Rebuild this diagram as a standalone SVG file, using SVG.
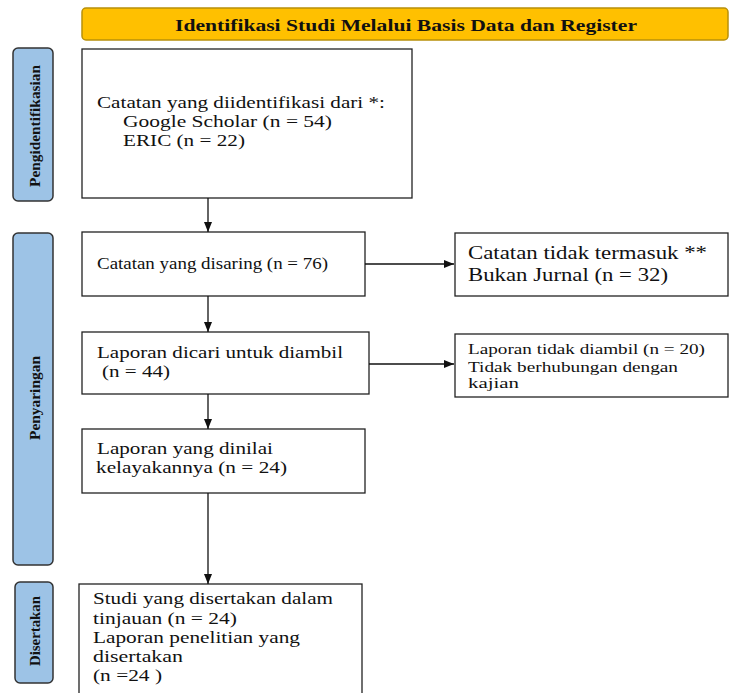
<svg xmlns="http://www.w3.org/2000/svg" width="729" height="693" viewBox="0 0 729 693">
<style>
.box{fill:#fff;stroke:#222;stroke-width:1.3}
.side{fill:#9dc3e6;stroke:#333;stroke-width:1.5}
.t{font-family:"Liberation Serif","Times New Roman",serif;fill:#111}
.lab{font-family:"Liberation Serif","Times New Roman",serif;font-weight:bold;font-size:15px;fill:#111;text-anchor:middle}
.c{stroke:#111;stroke-width:1.3;fill:none}
</style>
<defs>
<marker id="ah" markerWidth="10" markerHeight="8" refX="10" refY="4" orient="auto" markerUnits="userSpaceOnUse">
<path d="M0,0 L10,4 L0,8 Z" fill="#111"/>
</marker>
</defs>
<rect width="729" height="693" fill="#fff"/>
<g id="header">
<rect x="82" y="8" width="646" height="32" rx="4" fill="#ffc000" stroke="#b8900a" stroke-width="1.5"/>
<text class="t" x="175" y="31" font-size="17.5" font-weight="bold" textLength="462" lengthAdjust="spacingAndGlyphs">Identifikasi Studi Melalui Basis Data dan Register</text>
</g>
<g id="side-identification">
<rect class="side" x="13" y="48" width="40" height="153" rx="5"/>
<text class="lab" transform="translate(39.5,126) rotate(-90)" textLength="122" lengthAdjust="spacingAndGlyphs">Pengidentifikasian</text>
</g>
<g id="side-screening">
<rect class="side" x="13" y="233" width="40" height="332" rx="5"/>
<text class="lab" transform="translate(39.5,398) rotate(-90)" textLength="84" lengthAdjust="spacingAndGlyphs">Penyaringan</text>
</g>
<g id="side-included">
<rect class="side" x="15" y="582" width="38" height="101" rx="5"/>
<text class="lab" transform="translate(39.5,631) rotate(-90)" textLength="70" lengthAdjust="spacingAndGlyphs">Disertakan</text>
</g>
<g id="n1">
<rect class="box" x="82" y="49" width="330" height="149"/>
<text class="t" font-size="17.5" x="97" y="108" textLength="288" lengthAdjust="spacingAndGlyphs">Catatan yang diidentifikasi dari *:</text>
<text class="t" font-size="17.5" x="123" y="127" textLength="209" lengthAdjust="spacingAndGlyphs">Google Scholar (n = 54)</text>
<text class="t" font-size="17.5" x="123" y="146" textLength="122" lengthAdjust="spacingAndGlyphs">ERIC (n = 22)</text>
</g>
<g id="n2">
<rect class="box" x="82" y="232" width="283" height="64"/>
<text class="t" font-size="16" x="97" y="269" textLength="231" lengthAdjust="spacingAndGlyphs">Catatan yang disaring (n = 76)</text>
</g>
<g id="n3">
<rect class="box" x="455" y="233" width="273" height="63"/>
<text class="t" font-size="18" x="468" y="259" textLength="239" lengthAdjust="spacingAndGlyphs">Catatan tidak termasuk  **</text>
<text class="t" font-size="18" x="468" y="281" textLength="200" lengthAdjust="spacingAndGlyphs">Bukan Jurnal  (n = 32)</text>
</g>
<g id="n4">
<rect class="box" x="82" y="332" width="287" height="62"/>
<text class="t" font-size="17.5" x="97" y="358" textLength="246" lengthAdjust="spacingAndGlyphs">Laporan dicari untuk diambil</text>
<text class="t" font-size="17.5" x="102" y="377" textLength="68" lengthAdjust="spacingAndGlyphs">(n = 44)</text>
</g>
<g id="n5">
<rect class="box" x="455" y="334" width="273" height="63"/>
<text class="t" font-size="15.5" x="468" y="354" textLength="237" lengthAdjust="spacingAndGlyphs">Laporan tidak diambil (n = 20)</text>
<text class="t" font-size="15.5" x="468" y="372" textLength="210" lengthAdjust="spacingAndGlyphs">Tidak berhubungan dengan</text>
<text class="t" font-size="15.5" x="468" y="388" textLength="51" lengthAdjust="spacingAndGlyphs">kajian</text>
</g>
<g id="n6">
<rect class="box" x="82" y="429" width="283" height="64"/>
<text class="t" font-size="17.5" x="97" y="454" textLength="176" lengthAdjust="spacingAndGlyphs">Laporan yang dinilai</text>
<text class="t" font-size="17.5" x="96" y="473" textLength="191" lengthAdjust="spacingAndGlyphs">kelayakannya (n = 24)</text>
</g>
<g id="n7">
<rect class="box" x="79" y="584" width="283" height="115"/>
<text class="t" font-size="17.5" x="93" y="604" textLength="240" lengthAdjust="spacingAndGlyphs">Studi yang disertakan dalam</text>
<text class="t" font-size="17.5" x="93" y="624" textLength="144" lengthAdjust="spacingAndGlyphs">tinjauan (n = 24)</text>
<text class="t" font-size="17.5" x="93" y="643" textLength="207" lengthAdjust="spacingAndGlyphs">Laporan penelitian yang</text>
<text class="t" font-size="17.5" x="93" y="662" textLength="90" lengthAdjust="spacingAndGlyphs">disertakan</text>
<text class="t" font-size="17.5" x="93" y="681" textLength="69" lengthAdjust="spacingAndGlyphs">(n =24 )</text>
</g>
<g id="connectors">
<line class="c" x1="208" y1="198" x2="208" y2="232" marker-end="url(#ah)"/>
<line class="c" x1="208" y1="296" x2="208" y2="332" marker-end="url(#ah)"/>
<line class="c" x1="208" y1="394" x2="208" y2="429" marker-end="url(#ah)"/>
<line class="c" x1="208" y1="493" x2="208" y2="584" marker-end="url(#ah)"/>
<line class="c" x1="365" y1="264" x2="454" y2="264" marker-end="url(#ah)"/>
<line class="c" x1="369" y1="364" x2="454" y2="364" marker-end="url(#ah)"/>
</g>
</svg>
